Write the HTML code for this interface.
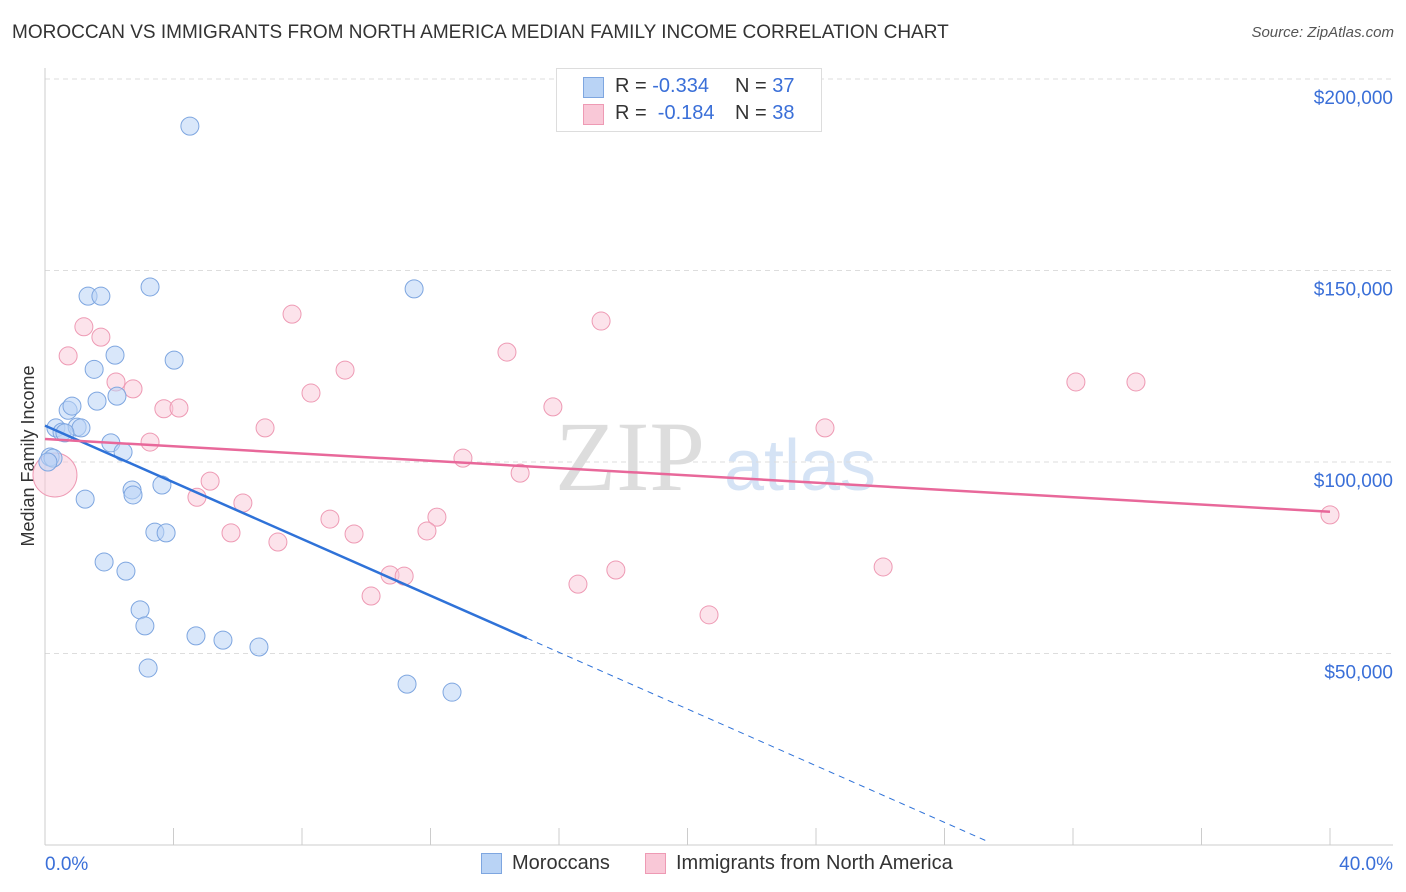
<!DOCTYPE html>
<html><head><meta charset="utf-8"><style>
body{margin:0;background:#fff;font-family:"Liberation Sans",sans-serif;}
#wrap{position:relative;width:1406px;height:892px;overflow:hidden;}
.t{position:absolute;white-space:nowrap;}
</style></head><body>
<div id="wrap">
<div class="t" style="left:12px;top:22px;font-size:19px;color:#333;">MOROCCAN VS IMMIGRANTS FROM NORTH AMERICA MEDIAN FAMILY INCOME CORRELATION CHART</div>
<div class="t" style="right:12px;top:24px;font-size:15px;color:#555;font-style:italic;">Source: ZipAtlas.com</div>
<svg id="svg" width="1406" height="892" style="position:absolute;left:0;top:0">
<text x="630" y="490" font-size="100" font-family="Liberation Serif" fill="#ddd" text-anchor="middle">ZIP</text>
<text x="800" y="490" font-size="72" font-family="Liberation Sans" fill="#d5e3f5" text-anchor="middle">atlas</text>
<text transform="translate(34,456) rotate(-90)" font-size="18" fill="#333" text-anchor="middle">Median Family Income</text>
</svg>
<div style="position:absolute;left:556px;top:68px;width:264px;height:62px;border:1px solid #ddd;background:#fff;">
<div style="position:absolute;left:26px;top:8px;width:19px;height:19px;background:#b9d3f5;border:1px solid #7ea6e0;"></div>
<div class="t" style="left:58px;top:6px;font-size:20px;color:#333;">R = <span style="color:#3a6fd8">-0.334</span></div>
<div class="t" style="left:178px;top:6px;font-size:20px;color:#333;">N = <span style="color:#3a6fd8">37</span></div>
<div style="position:absolute;left:26px;top:35px;width:19px;height:19px;background:#f9c8d7;border:1px solid #ee9ab4;"></div>
<div class="t" style="left:58px;top:33px;font-size:20px;color:#333;">R = &nbsp;<span style="color:#3a6fd8">-0.184</span></div>
<div class="t" style="left:178px;top:33px;font-size:20px;color:#333;">N = <span style="color:#3a6fd8">38</span></div>
</div>
<div style="position:absolute;left:481px;top:853px;width:19px;height:19px;background:#b9d3f5;border:1px solid #7ea6e0;"></div>
<div class="t" style="left:512px;top:852px;font-size:20px;color:#333;">Moroccans</div>
<div style="position:absolute;left:645px;top:853px;width:19px;height:19px;background:#f9c8d7;border:1px solid #ee9ab4;"></div>
<div class="t" style="left:676px;top:852px;font-size:20px;color:#333;">Immigrants from North America</div>
</div>
<script>
const xTicks=[0,4,8,12,16,20,24,28,32,36,40];
const yTicks=[50,100,150,200];
const yTickLabels=["$50,000","$100,000","$150,000","$200,000"];
const xEndLabels=["0.0%","40.0%"];
const blueX=[4.51,1.34,1.74,3.27,11.49,2.18,4.02,1.53,0.72,0.84,1.62,2.24,0.34,0.53,1.00,1.12,0.62,2.05,2.43,0.16,0.25,0.09,2.71,2.74,3.64,1.25,3.42,3.77,1.84,2.52,2.96,3.11,4.70,5.54,6.66,3.21,11.27,12.67];
const blueY=[187.7,143.3,143.3,145.7,145.2,127.9,126.6,124.2,113.5,114.6,115.9,117.2,108.9,107.8,109.1,108.9,107.6,105.0,102.6,101.3,101.0,100.0,92.7,91.4,94.0,90.3,81.7,81.5,73.9,71.5,61.4,57.2,54.6,53.5,51.7,46.2,42.0,39.9];
const pinkX=[1.21,0.72,1.74,2.21,2.74,7.69,17.31,14.38,9.34,8.28,3.70,4.17,15.81,3.27,6.85,24.28,32.09,33.96,13.01,14.79,0.31,5.14,4.73,6.16,8.87,12.20,9.62,5.79,11.89,7.25,10.15,10.74,11.18,16.59,17.77,26.09,20.67,40.0];
const pinkY=[135.3,127.7,132.6,120.9,119.1,138.6,136.8,128.7,124.0,118.0,113.9,114.1,114.4,105.2,108.9,108.9,120.9,120.9,101.0,97.1,96.6,95.0,90.8,89.3,85.1,85.6,81.2,81.5,82.0,79.1,65.0,70.5,70.2,68.1,71.8,72.6,60.1,86.2];
const pinkR=[9,9,9,9,9,9,9,9,9,9,9,9,9,9,9,9,9,9,9,9,22,9,9,9,9,9,9,9,9,9,9,9,9,9,9,9,9,9];
const blueTrend=[109.5,54.0,15.0,29.4];
const pinkTrend=[106.0,87.0];
const X=v=>45+v/40*1285;
const Y=v=>845-v/50*191.5;
const svg=document.getElementById('svg');
const NS='http://www.w3.org/2000/svg';
function mk(tag,at){const e=document.createElementNS(NS,tag);for(const k in at)e.setAttribute(k,at[k]);svg.appendChild(e);return e;}
yTicks.forEach((t,i)=>{
 const g=mk('line',{x1:45,x2:1393,y1:Y(t),y2:Y(t),stroke:'#ddd','stroke-dasharray':'5,4'});
 
 
 const l=mk('text',{x:1393,y:Y(t)+25,'font-size':19,fill:'#3a6fd8','text-anchor':'end'});
 l.textContent=yTickLabels[i];
 
 
});
const ax=mk('line',{x1:45,x2:45,y1:68,y2:845,stroke:'#ccc'});


const bx=mk('line',{x1:45,x2:1393,y1:845,y2:845,stroke:'#ccc'});


xTicks.forEach(t=>{
 const l=mk('line',{x1:X(t),x2:X(t),y1:828,y2:845,stroke:'#ccc'});
 
 
});
[[0,'start',45],[40,'end',1393]].forEach((d,i)=>{
 const l=mk('text',{x:d[2],y:870,'font-size':19,fill:'#3a6fd8','text-anchor':d[1]});
 l.textContent=xEndLabels[i];
 
 
});
pinkX.forEach((x,i)=>{
 const c=mk('circle',{cx:X(x),cy:Y(pinkY[i]),r:pinkR[i],fill:'#f9c8d7','fill-opacity':0.5,stroke:'#ee9ab4','stroke-width':1});
 
 
});
blueX.forEach((x,i)=>{
 const c=mk('circle',{cx:X(x),cy:Y(blueY[i]),r:9,fill:'#b9d3f5','fill-opacity':0.55,stroke:'#7ea6e0','stroke-width':1});
 
 
});
const slope=(blueTrend[1]-blueTrend[0])/blueTrend[2];
const bt=mk('line',{x1:X(0),y1:Y(blueTrend[0]),x2:X(blueTrend[2]),y2:Y(blueTrend[1]),stroke:'#2f72d8','stroke-width':2.5});


const bd=mk('line',{x1:X(blueTrend[2]),y1:Y(blueTrend[1]),x2:X(blueTrend[3]),y2:Y(blueTrend[0]+slope*blueTrend[3]),stroke:'#2f72d8','stroke-width':1,'stroke-dasharray':'6,5'});


const pt=mk('line',{x1:X(0),y1:Y(pinkTrend[0]),x2:X(40),y2:Y(pinkTrend[1]),stroke:'#e8689a','stroke-width':2.5});


</script>
</body></html>
